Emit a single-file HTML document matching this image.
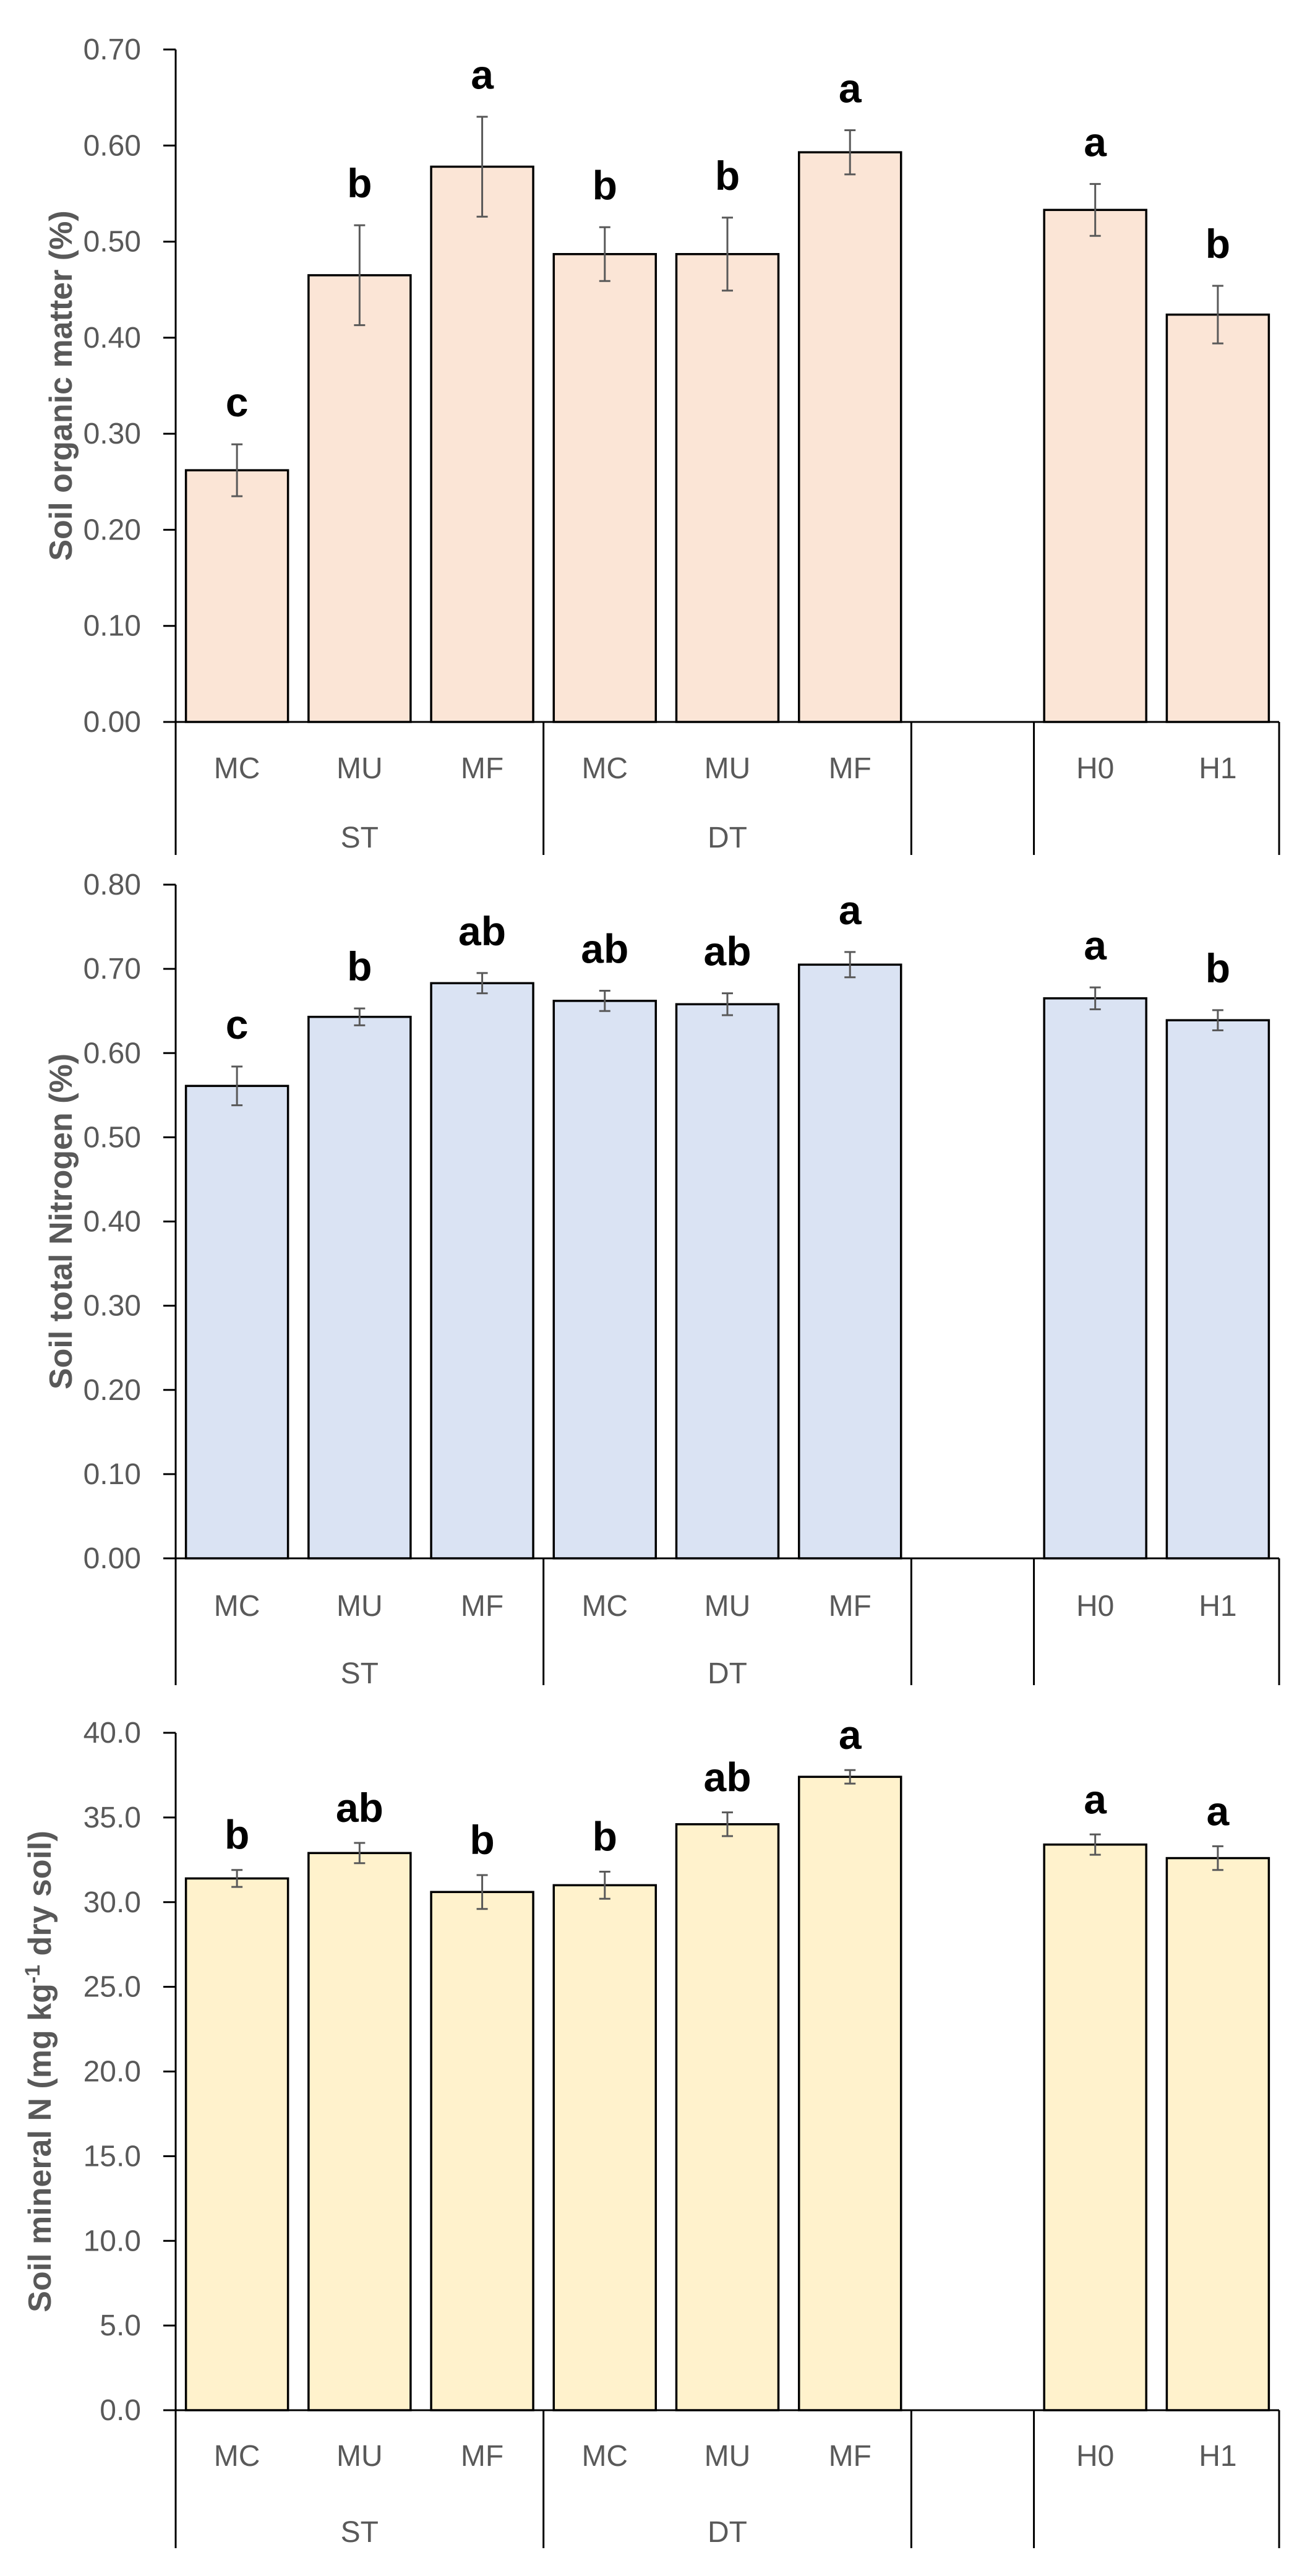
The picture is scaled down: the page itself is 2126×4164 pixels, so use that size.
<!DOCTYPE html>
<html><head><meta charset="utf-8"><style>
html,body{margin:0;padding:0;background:#fff;}
svg{display:block;font-family:"Liberation Sans",sans-serif;}
</style></head><body>
<svg id="fig" width="2126" height="4164" viewBox="0 0 2126 4164" xmlns="http://www.w3.org/2000/svg"></svg>
<script>
const categories = ["MC","MU","MF","MC","MU","MF","","H0","H1"];
const groupLabels = ["ST","DT","",""];
const somValues = [0.262,0.465,0.578,0.487,0.487,0.593,null,0.533,0.424];
const somErrors = [0.027,0.052,0.052,0.028,0.038,0.023,null,0.027,0.030];
const somLetters = ["c","b","a","b","b","a","","a","b"];
const somTicks = ["0.00","0.10","0.20","0.30","0.40","0.50","0.60","0.70"];
const tnValues = [0.561,0.643,0.683,0.662,0.658,0.705,null,0.665,0.639];
const tnErrors = [0.023,0.010,0.012,0.012,0.013,0.015,null,0.013,0.012];
const tnLetters = ["c","b","ab","ab","ab","a","","a","b"];
const tnTicks = ["0.00","0.10","0.20","0.30","0.40","0.50","0.60","0.70","0.80"];
const mnValues = [31.4,32.9,30.6,31.0,34.6,37.4,null,33.4,32.6];
const mnErrors = [0.5,0.6,1.0,0.8,0.7,0.4,null,0.6,0.7];
const mnLetters = ["b","ab","b","b","ab","a","","a","a"];
const mnTicks = ["0.0","5.0","10.0","15.0","20.0","25.0","30.0","35.0","40.0"];

const NS="http://www.w3.org/2000/svg";
const svg=document.getElementById('fig');
function mk(tag,attrs,parent){const e=document.createElementNS(NS,tag);for(const k in attrs)e.setAttribute(k,attrs[k]);(parent||svg).appendChild(e);return e;}

const X0=284, X1=2068, slot=(X1-X0)/9, barW=165;
const seps=[0,3,6,7,9];

function chart(cfg){
  const g=mk('g',{});
  
  
  const max=cfg.max;
  const y=v=>cfg.zero-(v/max)*(cfg.zero-cfg.top);
  const xc=i=>X0+slot*(i+0.5);
  cfg.ticks.forEach((t,i)=>{
    const v=max*i/(cfg.ticks.length-1);
    const ln=mk('line',{x1:X0-20,x2:X0,y1:y(v),y2:y(v),stroke:'#000','stroke-width':3},g);
    
    
    const tx=mk('text',{x:X0-56,y:y(v)+16,'text-anchor':'end','font-size':cfg.tickSize,fill:'#595959'},g);
    tx.textContent=t;
    
    
  });
  cfg.values.forEach((v,i)=>{
    if(v===null)return;
    const r=mk('rect',{x:xc(i)-barW/2,y:y(v),width:barW,height:cfg.zero-y(v),fill:cfg.fill,stroke:'#000','stroke-width':3.5},g);
    
    
    const e=cfg.errors[i];
    const eg=mk('g',{stroke:'#595959','stroke-width':3},g);
    
    
    mk('line',{x1:xc(i),x2:xc(i),y1:y(v+e),y2:y(v-e)},eg);
    mk('line',{x1:xc(i)-9,x2:xc(i)+9,y1:y(v+e),y2:y(v+e)},eg);
    mk('line',{x1:xc(i)-9,x2:xc(i)+9,y1:y(v-e),y2:y(v-e)},eg);
    const lt=mk('text',{x:xc(i),y:y(v+e)-cfg.gap,'text-anchor':'middle','font-size':66,'font-weight':'bold',fill:'#000'},g);
    lt.textContent=cfg.letters[i];
    
    
  });
  const ya=mk('line',{x1:X0,x2:X0,y1:cfg.top,y2:cfg.zero,stroke:'#000','stroke-width':3},g);
  
  
  const xa=mk('line',{x1:X0-20,x2:X1,y1:cfg.zero,y2:cfg.zero,stroke:'#000','stroke-width':3},g);
  
  
  seps.forEach(s=>{
    const l=mk('line',{x1:X0+slot*s,x2:X0+slot*s,y1:cfg.zero,y2:cfg.bottom,stroke:'#000','stroke-width':3},g);
    
    
  });
  categories.forEach((c,i)=>{
    const t=mk('text',{x:xc(i),y:cfg.catY,'text-anchor':'middle','font-size':cfg.tickSize,fill:'#595959'},g);
    t.textContent=c;
    
    
  });
  groupLabels.forEach((c,i)=>{
    const mid=X0+slot*(seps[i]+seps[i+1])/2;
    const t=mk('text',{x:mid,y:cfg.grpY,'text-anchor':'middle','font-size':cfg.tickSize,fill:'#595959'},g);
    t.textContent=c;
    
    
  });
  const cy=(cfg.top+cfg.zero)/2;
  const at=mk('text',{x:cfg.titleX,y:cy,'text-anchor':'middle','font-size':52,'font-weight':'bold',fill:'#595959',transform:`rotate(-90 ${cfg.titleX} ${cy})`},g);
  at.innerHTML=cfg.title;
  
  
}

chart({name:'soil-organic-matter-chart',values:somValues,errors:somErrors,letters:somLetters,ticks:somTicks,max:0.70,top:80,zero:1167,bottom:1382,catY:1258,grpY:1370,fill:'#FBE5D6',gap:45,titleX:116,tickSize:48,title:'Soil organic matter (%)'});
chart({name:'soil-total-nitrogen-chart',values:tnValues,errors:tnErrors,letters:tnLetters,ticks:tnTicks,max:0.80,top:1430,zero:2519,bottom:2724,catY:2612,grpY:2721,fill:'#DAE3F3',gap:45,titleX:116,tickSize:48,title:'Soil total Nitrogen (%)'});
chart({name:'soil-mineral-n-chart',values:mnValues,errors:mnErrors,letters:mnLetters,ticks:mnTicks,max:40,top:2801,zero:3896,bottom:4119,catY:3986,grpY:4109,fill:'#FFF2CC',gap:34,titleX:82,tickSize:48,title:'Soil mineral N (mg kg<tspan dy="-18" font-size="34">-1</tspan><tspan dy="18"> dry soil)</tspan>'});
</script>
</body></html>
